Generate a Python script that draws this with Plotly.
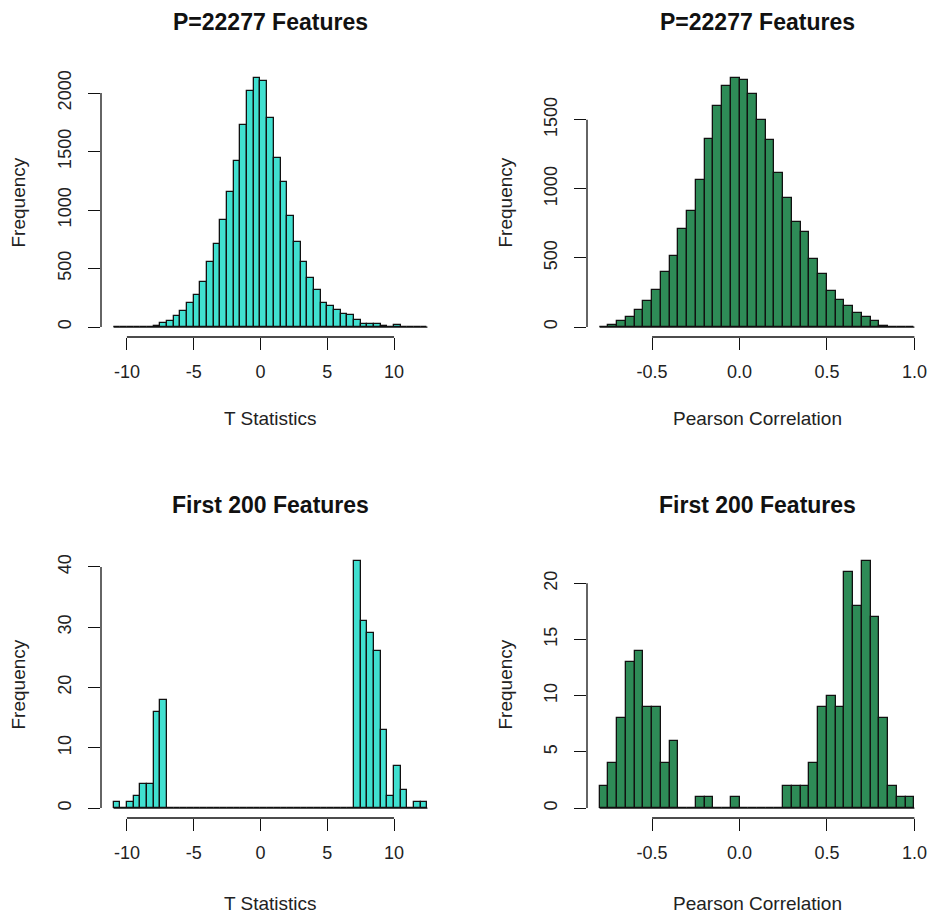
import plotly.graph_objects as go

# ---------------- data ----------------
t_breaks_start = -11.0
t_bin_width = 0.5
p_breaks_start = -0.8
p_bin_width = 0.05

# T statistics, all 22277 features, bins of 0.5 from -11 to 12.5
t_all_counts = [0, 0, 0, 0, 0, 0,
                11, 37, 49, 91, 134, 206, 271, 386, 560, 714, 914, 1151, 1420, 1723, 2014, 2129,
                2106, 1786, 1443, 1240, 951, 723, 557, 420, 317, 206, 177, 143, 114, 100, 57,
                23, 23, 23, 9, 0, 14, 0, 0, 0, 0]

# T statistics, first 200 features
t_first_counts = [1, 0, 1, 2, 4, 4, 16, 18,
                  0, 0, 0, 0, 0, 0, 0, 0, 0, 0, 0, 0, 0, 0, 0, 0, 0, 0, 0, 0, 0, 0, 0, 0, 0, 0, 0, 0,
                  41, 31, 29, 26, 13, 2, 7, 3, 0, 1, 1]

# Pearson correlation, all features, bins of 0.05 from -0.8 to 1.0
p_all_counts = [0, 12, 44, 75, 123, 186, 271, 397, 513, 709, 839, 1062, 1362, 1597, 1747, 1802,
                1790, 1686, 1500, 1352, 1115, 936, 762, 687, 493, 387, 261, 196, 150, 99, 75, 44, 10,
                0, 0, 0]

# Pearson correlation, first 200 features
p_first_counts = [2, 4, 8, 13, 14, 9, 9, 4, 6, 0, 0, 1, 1, 0, 0, 1,
                  0, 0, 0, 0, 0, 2, 2, 2, 4, 9, 10, 9, 21, 18, 22, 17, 8, 2, 1, 1]

t_ticks = [-10, -5, 0, 5, 10]
t_tick_labels = ["-10", "-5", "0", "5", "10"]
p_ticks = [-0.5, 0.0, 0.5, 1.0]
p_tick_labels = ["-0.5", "0.0", "0.5", "1.0"]

y_ticks_t_all = [0, 500, 1000, 1500, 2000]
y_ticks_p_all = [0, 500, 1000, 1500]
y_ticks_t_first = [0, 10, 20, 30, 40]
y_ticks_p_first = [0, 5, 10, 15, 20]

titles = ["P=22277 Features", "P=22277 Features", "First 200 Features", "First 200 Features"]
x_labels = ["T Statistics", "Pearson Correlation", "T Statistics", "Pearson Correlation"]
y_label = "Frequency"

TURQ = "#40E0D0"
SEAGREEN = "#2E8B57"
TEXT = "#222222"
FONT = "Liberation Sans, Arial, sans-serif"

W, H = 928, 915

# plot regions in pixels (left, right, top, bottom)
regions = [
    (101, 440, 68, 337),
    (587, 927, 68, 337),
    (101, 440, 551, 818),
    (587, 927, 551, 818),
]

panels = [
    (t_all_counts, t_breaks_start, t_bin_width, TURQ, t_ticks, t_tick_labels, y_ticks_t_all),
    (p_all_counts, p_breaks_start, p_bin_width, SEAGREEN, p_ticks, p_tick_labels, y_ticks_p_all),
    (t_first_counts, t_breaks_start, t_bin_width, TURQ, t_ticks, t_tick_labels, y_ticks_t_first),
    (p_first_counts, p_breaks_start, p_bin_width, SEAGREEN, p_ticks, p_tick_labels, y_ticks_p_first),
]

fig = go.Figure()
shapes = []
annotations = []

for i, ((counts, b0, bw, color, xt, xtl, yt), (l, r, t, b)) in enumerate(zip(panels, regions)):
    n = i + 1
    xa = "x" if n == 1 else f"x{n}"
    ya = "y" if n == 1 else f"y{n}"
    centers = [b0 + bw * (k + 0.5) for k in range(len(counts))]
    b1 = b0 + bw * len(counts)
    fig.add_trace(go.Bar(
        x=centers, y=counts, width=bw, xaxis=xa, yaxis=ya,
        marker=dict(color=color, line=dict(color="#111111", width=1.3)),
        showlegend=False, hoverinfo="x+y",
    ))
    xspan = b1 - b0
    ymax = max(counts)
    xkey = "xaxis" if n == 1 else f"xaxis{n}"
    ykey = "yaxis" if n == 1 else f"yaxis{n}"
    fig.layout[xkey] = dict(
        domain=[l / W, r / W], anchor=ya,
        range=[b0 - 0.04 * xspan, b1 + 0.04 * xspan],
        showline=False, showgrid=False, zeroline=False,
        ticks="outside", ticklen=12, tickwidth=1.3, tickcolor="#111111",
        tickvals=xt, ticktext=xtl, ticklabelstandoff=6,
        tickfont=dict(family=FONT, size=18, color=TEXT),
    )
    fig.layout[ykey] = dict(
        domain=[1 - b / H, 1 - t / H], anchor=xa,
        range=[-0.04 * ymax, 1.04 * ymax],
        showline=False, showgrid=False, zeroline=False,
        ticks="outside", ticklen=12, tickwidth=1.3, tickcolor="#111111",
        tickvals=yt, ticktext=[str(v) for v in yt], tickangle=-90, ticklabelstandoff=10,
        tickfont=dict(family=FONT, size=18, color=TEXT),
    )
    xref_dom = f"{xa} domain"
    yref_dom = f"{ya} domain"
    # R-style axis lines spanning first to last tick
    shapes.append(dict(type="line", xref=xa, yref=yref_dom, x0=xt[0], x1=xt[-1], y0=0, y1=0,
                       line=dict(color="#111111", width=1.3)))
    shapes.append(dict(type="line", xref=xref_dom, yref=ya, x0=0, x1=0, y0=yt[0], y1=yt[-1],
                       line=dict(color="#111111", width=1.3)))
    # baseline of histogram (zero-count bins)
    shapes.append(dict(type="line", xref=xa, yref=ya, x0=b0, x1=b1, y0=0, y1=0,
                       line=dict(color="#111111", width=1.3)))
    cx = (l + r) / 2
    cy = (t + b) / 2
    title_y = 22 if t < 300 else 505
    xlab_y = 418 if t < 300 else 903
    ylab_x = 18 if l < 300 else 505
    annotations.append(dict(text=f"<b>{titles[i]}</b>", x=cx / W, y=1 - title_y / H, xref="paper", yref="paper",
                            xanchor="center", yanchor="middle", showarrow=False,
                            font=dict(family=FONT, size=23, color="#111111")))
    annotations.append(dict(text=x_labels[i], x=cx / W, y=1 - xlab_y / H, xref="paper", yref="paper",
                            xanchor="center", yanchor="middle", showarrow=False,
                            font=dict(family=FONT, size=19, color=TEXT)))
    annotations.append(dict(text=y_label, x=ylab_x / W, y=1 - cy / H, xref="paper", yref="paper",
                            xanchor="center", yanchor="middle", showarrow=False, textangle=-90,
                            font=dict(family=FONT, size=19, color=TEXT)))

fig.update_layout(
    width=W, height=H, margin=dict(l=0, r=0, t=0, b=0),
    paper_bgcolor="white", plot_bgcolor="white",
    bargap=0, shapes=shapes, annotations=annotations,
    font=dict(family=FONT, color=TEXT),
)

fig.write_html("out.html", config={"displayModeBar": False},
               post_script="document.body.style.margin='0';document.body.style.overflow='hidden';")
